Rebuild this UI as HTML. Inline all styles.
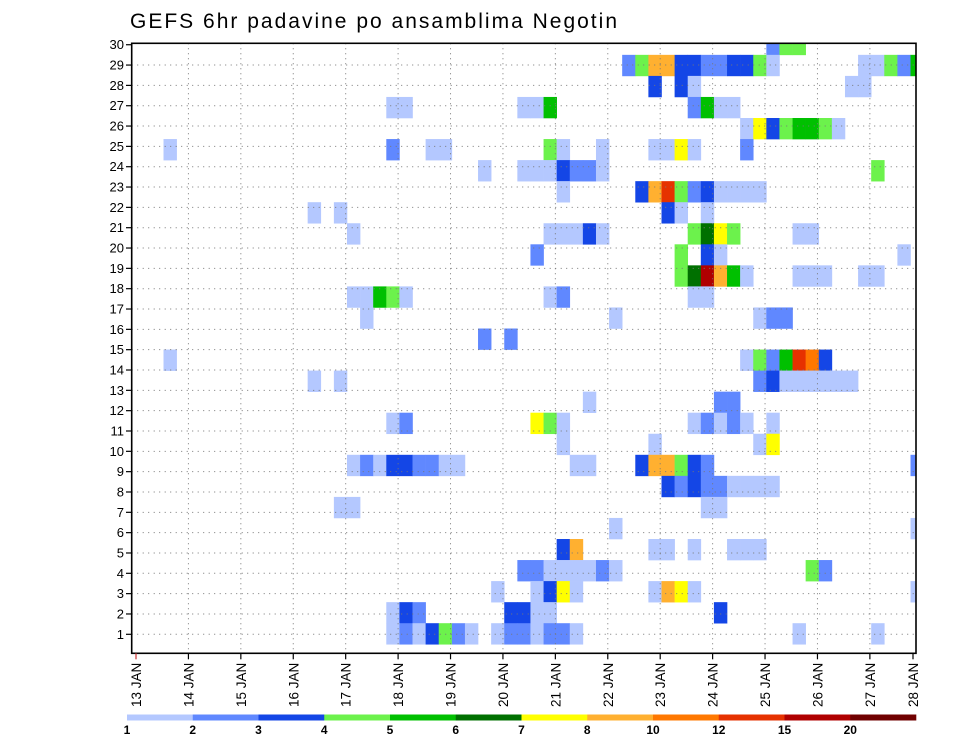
<!DOCTYPE html>
<html><head><meta charset="utf-8"><style>
html,body{margin:0;padding:0;background:#fff;}
svg{display:block;font-family:"Liberation Sans","DejaVu Sans",sans-serif;}
</style></head><body>
<svg id="chart" width="960" height="742" viewBox="0 0 960 742" xmlns="http://www.w3.org/2000/svg">
<text x="130" y="28" font-size="21" textLength="487" lengthAdjust="spacing" fill="#000">GEFS 6hr padavine po ansamblima Negotin</text>
<defs><clipPath id="plotclip"><rect x="131.7" y="43.3" width="784.3" height="610"/></clipPath></defs>
<g id="cells" clip-path="url(#plotclip)"></g>
<g id="grid"></g>
<rect x="131.7" y="43.3" width="784.3" height="610" fill="none" stroke="#000" stroke-width="1.6"/>
<g id="yaxis"></g>
<g id="xaxis"></g>
<g id="legend"></g>
</svg>
<script>
// ---- data ----
const dayLabels = ["13 JAN","14 JAN","15 JAN","16 JAN","17 JAN","18 JAN","19 JAN","20 JAN","21 JAN","22 JAN","23 JAN","24 JAN","25 JAN","26 JAN","27 JAN","28 JAN"];
const memberLabels = [1,2,3,4,5,6,7,8,9,10,11,12,13,14,15,16,17,18,19,20,21,22,23,24,25,26,27,28,29,30];
const levelLabels = ["1","2","3","4","5","6","7","8","10","12","15","20"];
const levelBounds = [1,2,3,4,5,6,7,8,10,12,15,20];
const levelColors = ["#b4c8ff","#6088ff","#1446e6","#6cf24c","#00c000","#007000","#ffff00","#ffb030","#ff7800","#e63200","#b00000","#700000"];
// cells: [member row, 6-hour step index, precipitation mm]
const cells = [
[29,48,2.5],[29,49,4.5],[29,50,4.5],
[28,37,2.5],[28,38,4.5],[28,39,9],[28,40,9],[28,41,3.5],[28,42,3.5],[28,43,2.5],[28,44,2.5],[28,45,3.5],[28,46,3.5],[28,47,4.5],[28,48,1.5],[28,55,1.5],[28,56,1.5],[28,57,4.5],[28,58,2.5],[28,59,5.5],
[27,39,3.5],[27,41,3.5],[27,42,1.5],[27,54,1.5],[27,55,1.5],
[26,19,1.5],[26,20,1.5],[26,29,1.5],[26,30,1.5],[26,31,5.5],[26,42,2.5],[26,43,5.5],[26,44,1.5],[26,45,1.5],
[25,46,1.5],[25,47,7.5],[25,48,3.5],[25,49,4.5],[25,50,5.5],[25,51,5.5],[25,52,4.5],[25,53,1.5],
[24,2,1.5],[24,19,2.5],[24,22,1.5],[24,23,1.5],[24,31,4.5],[24,32,1.5],[24,35,1.5],[24,39,1.5],[24,40,1.5],[24,41,7.5],[24,42,1.5],[24,46,2.5],
[23,26,1.5],[23,29,1.5],[23,30,1.5],[23,31,1.5],[23,32,3.5],[23,33,2.5],[23,34,2.5],[23,35,1.5],[23,56,4.5],
[22,32,1.5],[22,38,3.5],[22,39,9],[22,40,13],[22,41,4.5],[22,42,2.5],[22,43,3.5],[22,44,1.5],[22,45,1.5],[22,46,1.5],[22,47,1.5],
[21,13,1.5],[21,15,1.5],[21,40,3.5],[21,41,1.5],[21,43,1.5],
[20,16,1.5],[20,31,1.5],[20,32,1.5],[20,33,1.5],[20,34,3.5],[20,35,1.5],[20,42,4.5],[20,43,6.5],[20,44,7.5],[20,45,4.5],[20,50,1.5],[20,51,1.5],
[19,30,2.5],[19,41,4.5],[19,43,3.5],[19,44,1.5],[19,58,1.5],
[18,41,4.5],[18,42,6.5],[18,43,17],[18,44,9],[18,45,5.5],[18,46,1.5],[18,50,1.5],[18,51,1.5],[18,52,1.5],[18,55,1.5],[18,56,1.5],
[17,16,1.5],[17,17,1.5],[17,18,5.5],[17,19,4.5],[17,20,1.5],[17,31,1.5],[17,32,2.5],[17,42,1.5],[17,43,1.5],
[16,17,1.5],[16,36,1.5],[16,47,1.5],[16,48,2.5],[16,49,2.5],
[15,26,2.5],[15,28,2.5],
[14,2,1.5],[14,46,1.5],[14,47,4.5],[14,48,2.5],[14,49,5.5],[14,50,13],[14,51,11],[14,52,3.5],
[13,13,1.5],[13,15,1.5],[13,47,2.5],[13,48,3.5],[13,49,1.5],[13,50,1.5],[13,51,1.5],[13,52,1.5],[13,53,1.5],[13,54,1.5],
[12,34,1.5],[12,44,2.5],[12,45,2.5],
[11,19,1.5],[11,20,2.5],[11,30,7.5],[11,31,4.5],[11,32,1.5],[11,42,1.5],[11,43,2.5],[11,44,1.5],[11,45,2.5],[11,46,1.5],[11,48,1.5],
[10,32,1.5],[10,39,1.5],[10,47,1.5],[10,48,7.5],
[9,16,1.5],[9,17,2.5],[9,18,1.5],[9,19,3.5],[9,20,3.5],[9,21,2.5],[9,22,2.5],[9,23,1.5],[9,24,1.5],[9,33,1.5],[9,34,1.5],[9,38,3.5],[9,39,9],[9,40,9],[9,41,4.5],[9,42,3.5],[9,43,2.5],[9,59,2.5],
[8,40,3.5],[8,41,2.5],[8,42,3.5],[8,43,2.5],[8,44,2.5],[8,45,1.5],[8,46,1.5],[8,47,1.5],[8,48,1.5],
[7,15,1.5],[7,16,1.5],[7,43,1.5],[7,44,1.5],
[6,36,1.5],[6,59,1.5],
[5,32,3.5],[5,33,9],[5,39,1.5],[5,40,1.5],[5,42,1.5],[5,45,1.5],[5,46,1.5],[5,47,1.5],
[4,29,2.5],[4,30,2.5],[4,31,1.5],[4,32,1.5],[4,33,1.5],[4,34,1.5],[4,35,2.5],[4,36,1.5],[4,51,4.5],[4,52,2.5],
[3,27,1.5],[3,30,1.5],[3,31,3.5],[3,32,7.5],[3,33,1.5],[3,39,1.5],[3,40,9],[3,41,7.5],[3,42,1.5],[3,59,1.5],
[2,19,1.5],[2,20,3.5],[2,21,2.5],[2,28,3.5],[2,29,3.5],[2,30,1.5],[2,31,1.5],[2,44,3.5],
[1,19,1.5],[1,20,2.5],[1,21,1.5],[1,22,3.5],[1,23,4.5],[1,24,2.5],[1,25,1.5],[1,27,1.5],[1,28,2.5],[1,29,2.5],[1,30,1.5],[1,31,2.5],[1,32,2.5],[1,33,1.5],[1,50,1.5],[1,56,1.5]
];
// ---- layout ----
const NS="http://www.w3.org/2000/svg";
const X0=136, DAY=52.42, STEP=DAY/4, CELL_X0=137.3;
const PL=131.7, PR=916, PT=43.3, PB=653.3;
function xDay(i){return X0+i*DAY;}
function xCell(s){return CELL_X0+s*STEP;}
function yLabel(m){return 634.3-(m-1)*20.33;}
function yCell(m){return 633.7-(m-1)*21.05;}
function colorFor(v){let idx=0;for(let i=0;i<levelBounds.length;i++){if(v>=levelBounds[i])idx=i;}return levelColors[idx];}
function mk(tag,attrs,parent){const e=document.createElementNS(NS,tag);for(const k in attrs)e.setAttribute(k,attrs[k]);parent.appendChild(e);return e;}

const gc=document.getElementById('cells');
cells.forEach(c=>{
  const r=mk('rect',{x:xCell(c[1]).toFixed(2),y:(yCell(c[0])-10.5).toFixed(2),width:(STEP+0.3).toFixed(2),height:21.35,fill:colorFor(c[2])},gc);
  
  
});

const gg=document.getElementById('grid');
for(let i=1;i<dayLabels.length-1;i++){
  const l=mk('line',{x1:xDay(i),x2:xDay(i),y1:PT,y2:PB,stroke:"#777","stroke-width":1,"stroke-dasharray":"1 4"},gg);
  
  
}
for(let m=1;m<=29;m++){
  const l=mk('line',{x1:PL,x2:PR,y1:yLabel(m),y2:yLabel(m),stroke:"#777","stroke-width":1,"stroke-dasharray":"1 4.5"},gg);
  
  
}

const gy=document.getElementById('yaxis');
memberLabels.forEach(m=>{
  const y=yLabel(m);
  const t=mk('line',{x1:126,x2:PL,y1:y,y2:y,stroke:"#000","stroke-width":1.2},gy);
  
  
  const tx=mk('text',{x:124,y:y+4.5,"font-size":13,"text-anchor":"end",fill:"#000"},gy);
  tx.textContent=m;
  
  
});

const gx=document.getElementById('xaxis');
dayLabels.forEach((d,i)=>{
  let x=xDay(i); if(x>PR-3)x=PR-3;
  const t=mk('line',{x1:x,x2:x,y1:PB,y2:PB+6,stroke:i==0?"#c33":"#000","stroke-width":1.2},gx);
  
  
  const tx=mk('text',{x:0,y:0,"font-size":13.5,"text-anchor":"start",fill:"#000",transform:`translate(${(x+5).toFixed(1)},707) rotate(-90)`},gx);
  tx.textContent=d;
  
  
});

const gl=document.getElementById('legend');
const LX=127, LW=(916-127)/levelColors.length;
levelColors.forEach((c,i)=>{
  const r=mk('rect',{x:(LX+i*LW).toFixed(2),y:714.5,width:(LW+0.3).toFixed(2),height:6,fill:c},gl);
  
  
});
levelLabels.forEach((s,i)=>{
  const tx=mk('text',{x:(LX+i*LW).toFixed(2),y:734,"font-size":12,"font-weight":"bold","text-anchor":"middle",fill:"#000"},gl);
  tx.textContent=s;
  
  
});
</script>
</body></html>
